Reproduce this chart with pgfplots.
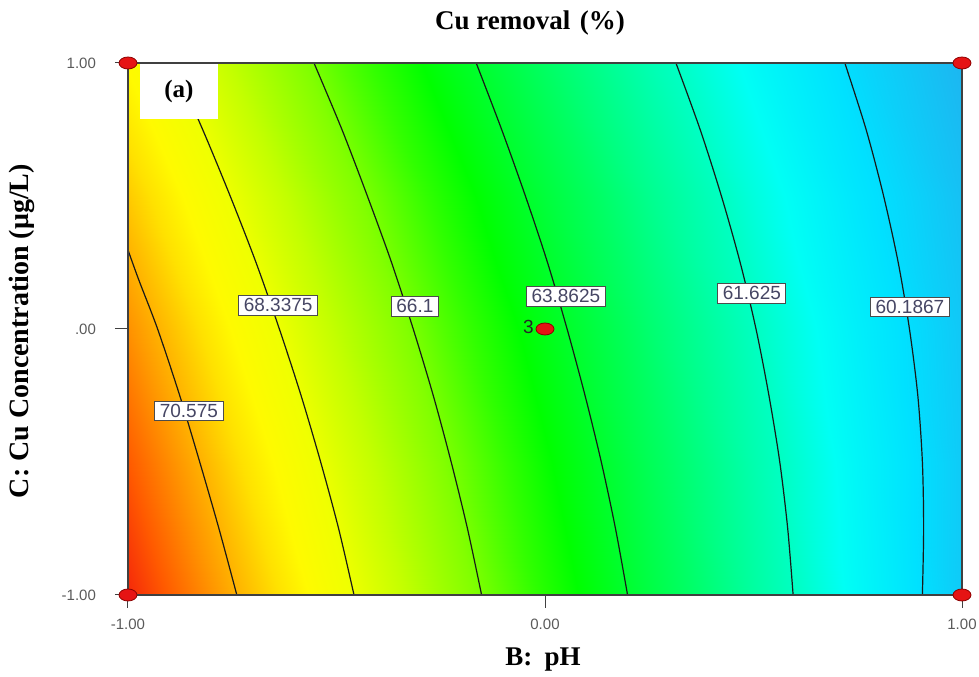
\documentclass[border=0pt]{standalone}
\usepackage{fontspec}
\setmainfont{Liberation Serif}
\newfontfamily\arialfont{Liberation Sans}
\usepackage{pgfplots}
\pgfplotsset{compat=1.18}
\usepackage{pgfplotstable}

\definecolor{ticktext}{RGB}{90,90,90}
\definecolor{lbltext}{RGB}{70,70,100}
\definecolor{dotred}{RGB}{230,20,20}

\pgfplotsset{colormap={cu}{rgb255(0mm)=(30,180,240); rgb255(9mm)=(0,225,255); rgb255(17mm)=(0,255,245); rgb255(23mm)=(0,255,195); rgb255(37mm)=(0,255,100); rgb255(53mm)=(0,255,0); rgb255(60mm)=(50,255,0); rgb255(70mm)=(130,255,0); rgb255(82mm)=(195,255,0); rgb255(92mm)=(240,255,0); rgb255(100mm)=(255,250,0); rgb255(106mm)=(255,225,0); rgb255(119mm)=(255,150,0); rgb255(129mm)=(255,90,0); rgb255(137mm)=(245,40,10)}}

\pgfplotstableread{
x y v
-1 -1 73.04
-0.75 -1 70.82
-0.5 -1 68.76
-0.25 -1 66.85
0 -1 65.11
0.25 -1 63.53
0.5 -1 62.11
0.75 -1 60.84
1 -1 59.74
-1 -0.5 72.20
-0.75 -0.5 70.08
-0.5 -0.5 68.13
-0.25 -0.5 66.33
0 -0.5 64.70
0.25 -0.5 63.22
0.5 -0.5 61.90
0.75 -0.5 60.75
1 -0.5 59.75
-1 0 71.29
-0.75 0 69.28
-0.5 0 67.43
-0.25 0 65.74
0 0 64.21
0.25 0 62.84
0.5 0 61.63
0.75 0 60.58
1 0 59.69
-1 0.5 70.30
-0.75 0.5 68.40
-0.5 0.5 66.65
-0.25 0.5 65.07
0 0.5 63.65
0.25 0.5 62.38
0.5 0.5 61.28
0.75 0.5 60.33
1 0.5 59.55
-1 1 69.24
-0.75 1 67.44
-0.5 1 65.81
-0.25 1 64.33
0 1 63.01
0.25 1 61.85
0.5 1 60.86
0.75 1 60.02
1 1 59.34
}\surfdata

\tikzset{clbl/.style={fill=white, draw=black!70, line width=0.4pt, inner xsep=2.5pt, inner ysep=1.6pt, font=\arialfont\fontsize{9.5}{11}\selectfont, text=lbltext}}

\begin{document}
\begin{tikzpicture}
\begin{axis}[
  scale only axis, width=417pt, height=266pt,
  xmin=-1, xmax=1, ymin=-1, ymax=1,
  clip=false, axis on top,
  colormap name=cu, point meta min=59.3, point meta max=73.0,
  xtick={-1,0,1}, xticklabels={-1.00,0.00,1.00},
  ytick={-1,0,1}, yticklabels={-1.00,.00,1.00},
  xtick pos=bottom, ytick pos=left,
  tick align=outside, major tick length=6.5pt,
  tick style={draw=black!75, line width=0.5pt},
  axis line style={draw=black!75, line width=0.6pt},
  every tick label/.append style={font=\arialfont\fontsize{7.5}{9}\selectfont, text=ticktext},
  xticklabel style={yshift=-2pt},
  yticklabel style={xshift=-6pt},
  xlabel={B:\hspace{0.45em}pH},
  xlabel style={font=\bfseries\fontsize{13.5}{16}\selectfont, at={(axis description cs:0.4976,-0.1222)}, anchor=center},
  ylabel={C: Cu Concentration (μg/L)},
  ylabel style={font=\bfseries\fontsize{14}{16}\selectfont, at={(axis description cs:-0.1271,0.496)}, anchor=center},
]
\addplot[surf, shader=interp, mesh/cols=9, point meta=\thisrow{v}] table[x=x, y=y] {\surfdata};

% contour lines
\addplot[no marks, smooth, black!90, line width=0.6pt] coordinates {(-1.000,0.297) (-0.974,0.184) (-0.929,0.000) (-0.876,-0.250) (-0.828,-0.500) (-0.782,-0.750) (-0.739,-1.000)};
\addplot[no marks, smooth, black!90, line width=0.6pt] coordinates {(-0.892,1) (-0.821,0.75) (-0.755,0.5) (-0.693,0.25) (-0.637,0) (-0.585,-0.25) (-0.538,-0.5) (-0.495,-0.75) (-0.458,-1)};
\addplot[no marks, smooth, black!90, line width=0.6pt] coordinates {(-0.554,1) (-0.487,0.75) (-0.426,0.5) (-0.368,0.25) (-0.316,0) (-0.268,-0.25) (-0.225,-0.5) (-0.186,-0.75) (-0.152,-1)};
\addplot[no marks, smooth, black!90, line width=0.6pt] coordinates {(-0.165,1) (-0.104,0.75) (-0.047,0.5) (0.006,0.25) (0.053,0) (0.096,-0.25) (0.135,-0.5) (0.169,-0.75) (0.198,-1)};
\addplot[no marks, smooth, black!90, line width=0.6pt] coordinates {(0.314,1) (0.372,0.75) (0.423,0.5) (0.468,0.25) (0.506,0) (0.537,-0.25) (0.563,-0.5) (0.582,-0.75) (0.595,-1)};
\addplot[no marks, smooth, black!90, line width=0.6pt] coordinates {(0.719,1) (0.770,0.75) (0.812,0.5) (0.847,0.25) (0.874,0) (0.894,-0.25) (0.905,-0.5) (0.908,-0.75) (0.905,-1)};

% contour labels
\node[clbl] at (axis cs:-0.854,-0.308) {70.575};
\node[clbl] at (axis cs:-0.640,0.090) {68.3375};
\node[clbl] at (axis cs:-0.312,0.086) {66.1};
\node[clbl] at (axis cs:0.050,0.124) {63.8625};
\node[clbl] at (axis cs:0.496,0.135) {61.625};
\node[clbl] at (axis cs:0.875,0.083) {60.1867};

% panel tag
\node[fill=white, minimum width=39pt, minimum height=27.5pt, inner sep=0pt, font=\bfseries\fontsize{12.5}{14}\selectfont] at (axis cs:-0.878,0.891) {(a)};

% design points
\addplot[only marks, mark=*, mark size=3pt, mark options={xscale=1.5, fill=dotred, draw=red!55!black, line width=0.4pt}] coordinates {(-1,-1) (-1,1) (1,-1) (1,1) (0,0)};
\node[anchor=east, inner sep=0pt, font=\arialfont\fontsize{9.5}{11}\selectfont, text=black!85] at (axis cs:-0.026,0.008) {3};

% title
\node[anchor=center, inner sep=0pt, font=\bfseries\fontsize{13.5}{16}\selectfont] at (axis description cs:0.482,1.0752) {Cu removal\hspace{0.35em}(\%)};
\end{axis}
\pgfresetboundingbox
\path (current axis.south west) ++(-64pt,-41pt) rectangle ([shift={(8.5pt,31.5pt)}]current axis.north east);
\end{tikzpicture}
\end{document}
